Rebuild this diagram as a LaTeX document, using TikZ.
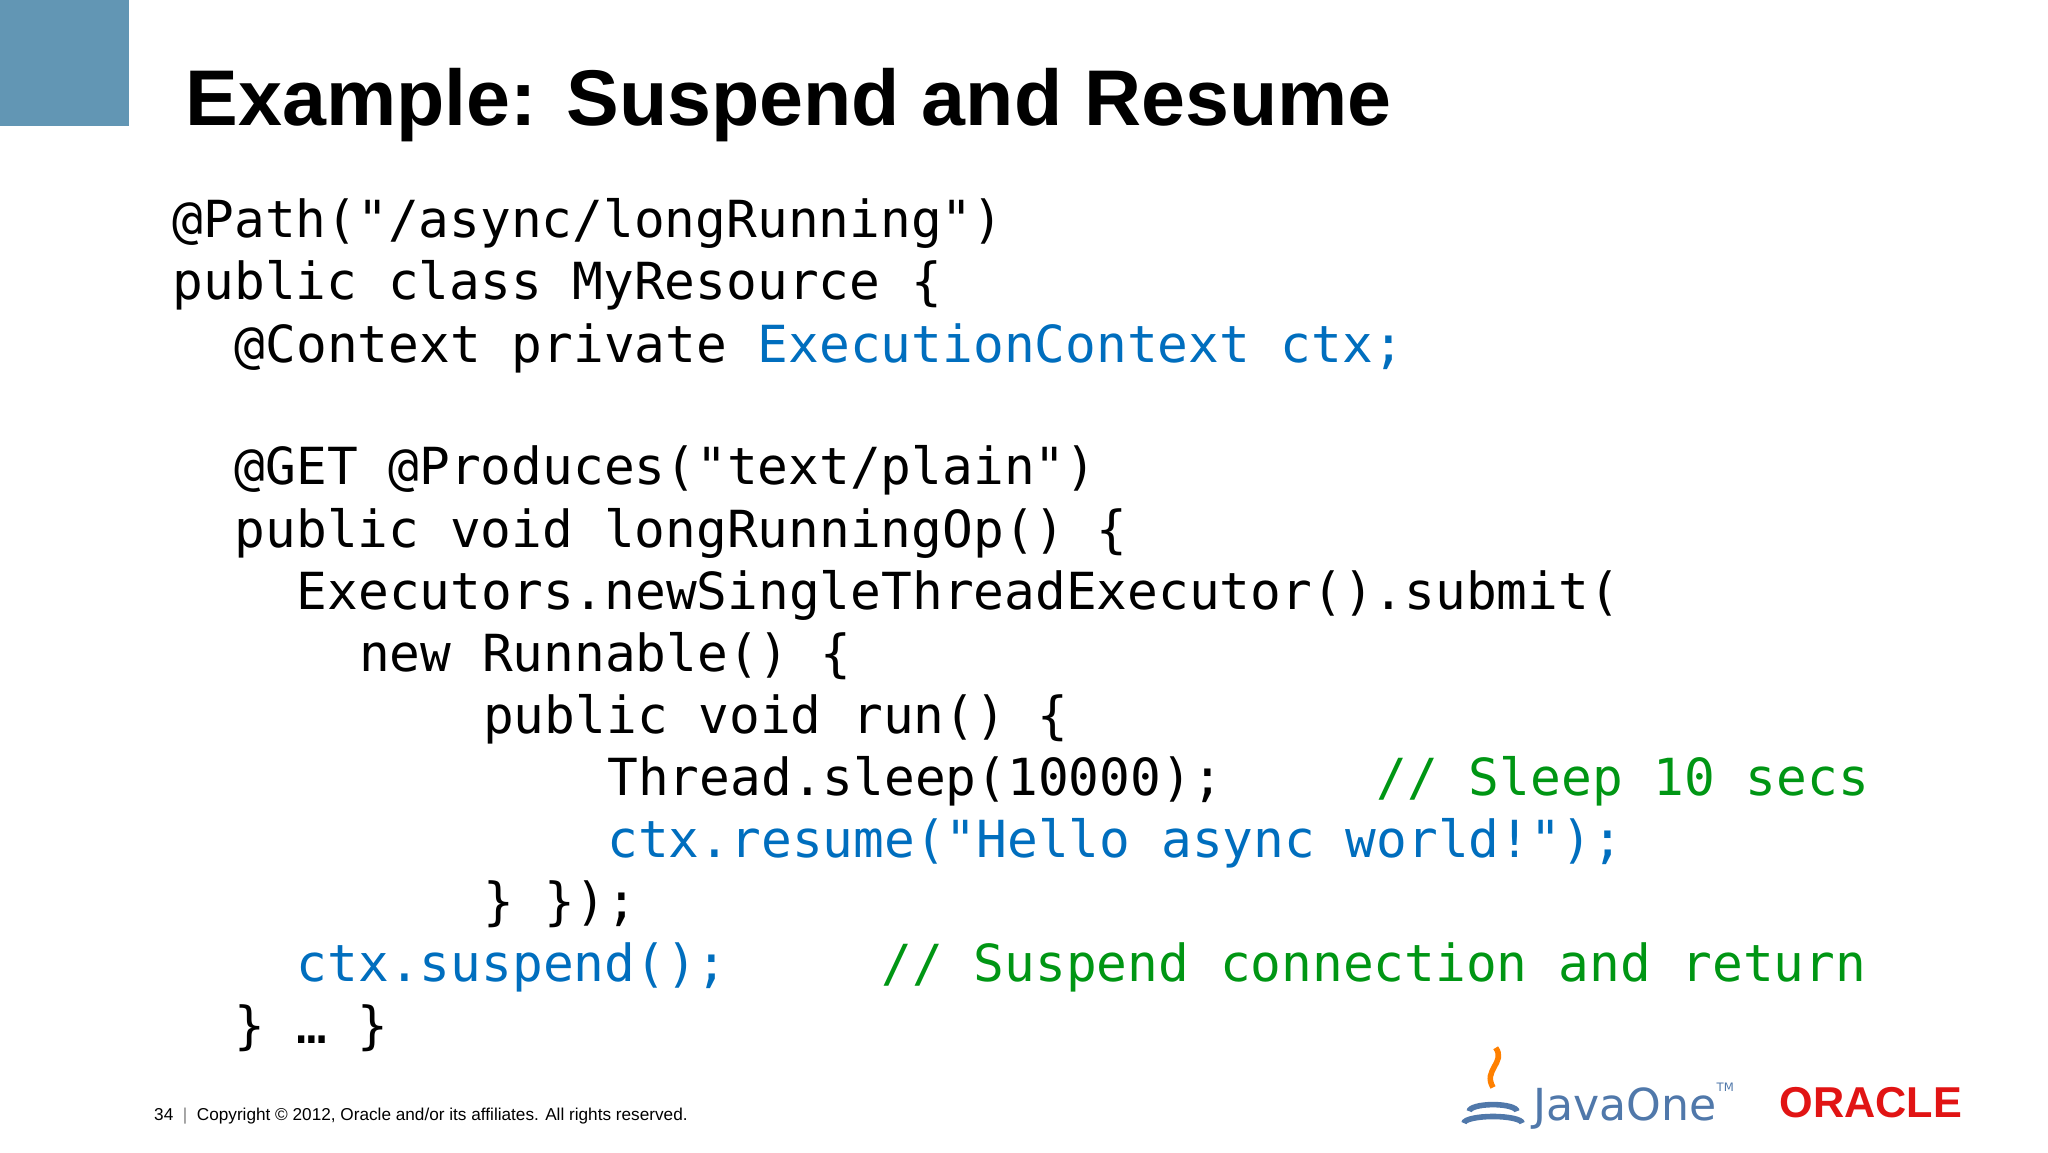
\documentclass[tikz,border=0pt]{standalone}
\usepackage{fontspec}
\setmainfont{Liberation Sans}
\newfontfamily\codefont{DejaVu Sans Mono}
\newfontfamily\jfont{DejaVu Sans}
\definecolor{cblue}{RGB}{0,110,190}
\definecolor{cgreen}{RGB}{0,150,20}
\definecolor{sq}{RGB}{98,150,180}
\definecolor{ored}{RGB}{225,20,20}
\definecolor{jblue}{RGB}{80,120,170}
\begin{document}
\begin{tikzpicture}[x=0.01cm,y=-0.01cm,
  code/.style={anchor=base west,inner sep=0,font=\codefont\fontsize{11}{13}\selectfont}]
\useasboundingbox (0,0) rectangle (1550,872);
\fill[white] (0,0) rectangle (1550,872);
\fill[sq] (0,0) rectangle (98,95);
\node[anchor=base west,inner sep=0,font=\bfseries\fontsize{17}{20}\selectfont] (title) at (140,95) {Example: Suspend and Resume};
\node[code] (l1) at (130,180) {@Path("/async/longRunning")};
\node[code] (l2) at (130,227) {public class MyResource \{};
\node[code] (l3) at (177,274) {@Context private \textcolor{cblue}{ExecutionContext ctx;}};
\node[code] (l5) at (177,367) {@GET @Produces("text/plain")};
\node[code] (l6) at (177,414) {public void longRunningOp() \{};
\node[code] (l7) at (224,461) {Executors.newSingleThreadExecutor().submit(};
\node[code] (l8) at (271,508) {new Runnable() \{};
\node[code] (l9) at (365,555) {public void run() \{};
\node[code] (l10) at (459,602) {Thread.sleep(10000);\ \ \ \ \ \textcolor{cgreen}{// Sleep 10 secs}};
\node[code,text=cblue] (l11) at (459,649) {ctx.resume("Hello async world!");};
\node[code] (l12) at (365,696) {\} \});};
\node[code] (l13) at (224,743) {\textcolor{cblue}{ctx.suspend();}\ \ \ \ \ \textcolor{cgreen}{// Suspend connection and return}};
\node[code] (l14) at (177,790) {\} … \}};
\node[anchor=base west,inner sep=0,font=\fontsize{3.7}{5}\selectfont] (foot) at (116,848) {34\ \ \textcolor{gray}{|}\ \ Copyright © 2012, Oracle and/or its affiliates. All rights reserved.};
\node[anchor=base west,inner sep=0,text=jblue,font=\jfont\fontsize{9.5}{11}\selectfont] (java) at (1160,848) {JavaOne\raisebox{1.2ex}{\fontsize{2.5}{3}\selectfont TM}};
\draw[jblue,line width=1.2pt] (1112,841) arc (180:360:18 and 5) (1108,850) arc (180:360:22 and 5);
\draw[orange,line width=1.2pt] (1130,823) .. controls (1122,810) and (1140,804) .. (1132,793);
\node[anchor=base west,inner sep=0,text=ored,font=\bfseries\fontsize{9.3}{11}\selectfont] (oracle) at (1346,846) {ORACLE};
\end{tikzpicture}
\end{document}
